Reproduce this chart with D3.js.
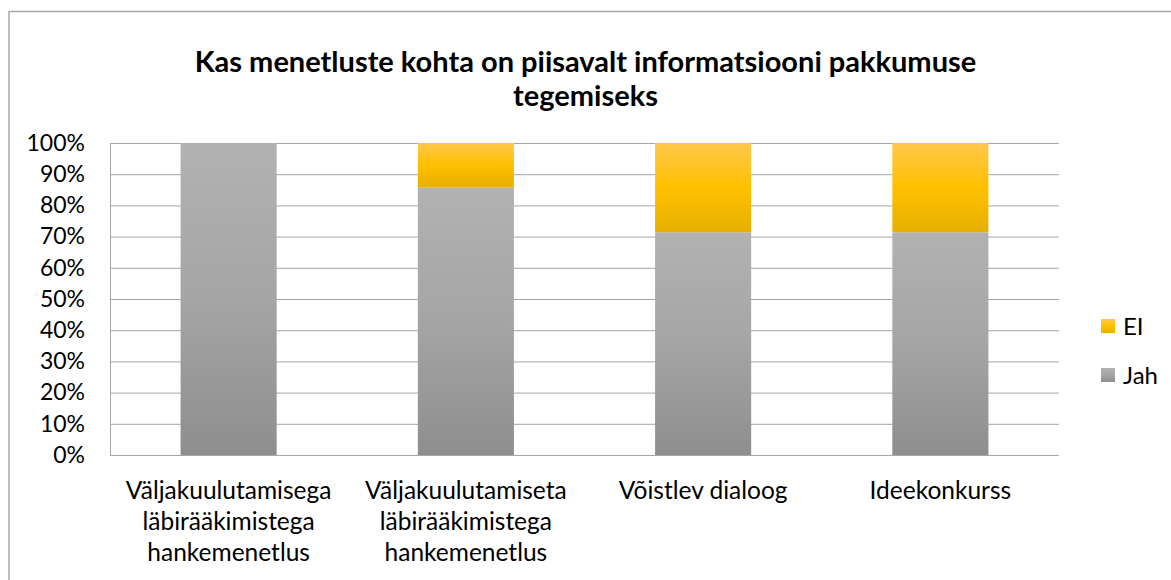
<!DOCTYPE html>
<html><head><meta charset="utf-8">
<script src="https://cdn.jsdelivr.net/npm/d3@7"></script>
<style>body{margin:0;background:#fff}svg{display:block}text{font-family:Lato,"Noto Sans",sans-serif;fill:#000}</style>
</head><body><svg id="c" width="1171" height="580"></svg>
<script>
const titleLines = ["Kas menetluste kohta on piisavalt informatsiooni pakkumuse", "tegemiseks"];
const categories = ["Väljakuulutamisega läbirääkimistega hankemenetlus", "Väljakuulutamiseta läbirääkimistega hankemenetlus", "Võistlev dialoog", "Ideekonkurss"];
const categoryLines = [["Väljakuulutamisega","läbirääkimistega","hankemenetlus"],["Väljakuulutamiseta","läbirääkimistega","hankemenetlus"],["Võistlev dialoog"],["Ideekonkurss"]];
const jah = [100, 85.7, 71.4, 71.4];
const ei = [0, 14.3, 28.6, 28.6];
const seriesNames = ["Jah", "EI"];
const yTicks = [0,10,20,30,40,50,60,70,80,90,100];

const svg = d3.select("#c");
const defs = svg.append("defs");
function grad(id, stops){
  const g = defs.append("linearGradient").attr("id", id).attr("x1",0).attr("y1",0).attr("x2",0).attr("y2",1);
  stops.forEach(s => g.append("stop").attr("offset", s[0]).attr("stop-color", s[1]));
}
grad("gGray", [[0,"#b2b2b2"],[0.5,"#a5a5a5"],[1,"#8e8e8e"]]);
grad("gYel", [[0,"#ffc84c"],[0.5,"#ffc000"],[1,"#e5b000"]]);
const fills = {Jah:"url(#gGray)", EI:"url(#gYel)"};

svg.append("rect").attr("x",9).attr("y",11.5).attr("width",1300).attr("height",700)
  .attr("fill","#fff").attr("stroke","#a8a8a8").attr("stroke-width",1.5);

const m = {l:110, r:1059, t:143, b:455};
const x = d3.scaleBand().domain(categories).range([m.l, m.r]).paddingInner(0.595).paddingOuter(0.2975);
const y = d3.scaleLinear().domain([0,100]).range([m.b, m.t]);

// gridlines
svg.append("g").selectAll("line").data(yTicks).join("line")
  .attr("x1", m.l).attr("x2", m.r).attr("y1", d=>y(d)+0.5).attr("y2", d=>y(d)+0.5)
  .attr("stroke","#a6a6a6").attr("stroke-width",1);
svg.append("line").attr("x1",m.l+0.5).attr("x2",m.l+0.5).attr("y1",m.t).attr("y2",m.b)
  .attr("stroke","#a6a6a6");

// y axis labels
const yAxis = d3.axisLeft(y).tickValues(yTicks).tickFormat(d=>d+"%").tickSize(0).tickPadding(25);
const ya = svg.append("g").attr("transform",`translate(${m.l},0)`).call(yAxis);
ya.select(".domain").remove();
ya.selectAll("text").style("font-size","23px").style("font-family","Lato,sans-serif").attr("fill","#000");

// stacked bars
const data = categories.map((c,i)=>({cat:c, Jah:jah[i], EI:ei[i]}));
const stack = d3.stack().keys(seriesNames)(data);
svg.append("g").selectAll("g").data(stack).join("g")
  .attr("fill", s=>fills[s.key])
  .selectAll("rect").data(d=>d.filter(p=>p[1]-p[0]>0)).join("rect")
  .attr("x", d=>x(d.data.cat)).attr("width", x.bandwidth())
  .attr("y", d=>y(d[1])).attr("height", d=>y(d[0])-y(d[1]));

// x labels
const xl = svg.append("g");
categories.forEach((c,i)=>{
  const t = xl.append("text").attr("text-anchor","middle").style("font-size","24.5px")
    .attr("x", x(c)+x.bandwidth()/2).attr("y", 499);
  categoryLines[i].forEach((ln,j)=>t.append("tspan").attr("x", x(c)+x.bandwidth()/2).attr("dy", j?31:0).text(ln));
});

// title
const tt = svg.append("text").attr("text-anchor","middle").style("font-size","29px").style("font-weight","bold")
  .attr("x",585.5).attr("y",72);
titleLines.forEach((ln,j)=>tt.append("tspan").attr("x",585.5).attr("dy", j?34:0).text(ln));

// legend
const leg = [{k:"EI", y:326},{k:"Jah", y:375}];
const lg = svg.append("g").selectAll("g").data(leg).join("g");
lg.append("rect").attr("x",1101).attr("y",d=>d.y-7).attr("width",14).attr("height",14).attr("fill",d=>fills[d.k]);
lg.append("text").attr("x",1123).attr("y",d=>d.y+8.5).style("font-size","24px").text(d=>d.k);
</script></body></html>
